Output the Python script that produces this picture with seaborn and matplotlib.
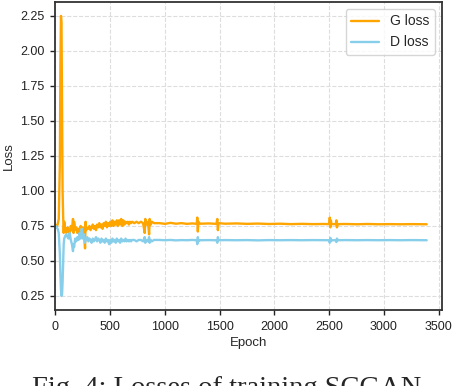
import matplotlib
matplotlib.use("Agg")
import matplotlib.pyplot as plt
import seaborn as sns
import pandas as pd

# Values (epoch, generator loss, discriminator loss)
epochs = [
    0, 10, 20, 30, 40, 45, 50, 55, 60, 65, 70, 75, 80, 90, 100, 110, 120, 130, 140, 150,
    160, 165, 170, 180, 190, 200, 210, 220, 230, 240, 250, 260, 270, 275, 280, 290,
    300, 310, 320, 330, 340, 350, 360, 370, 380, 390, 400, 410, 420, 430, 440, 450,
    460, 470, 480, 490, 500, 510, 520, 530, 540, 550, 560, 570, 580, 590, 600, 610,
    620, 630, 640, 650, 660, 670, 680, 690, 700, 720, 740, 760, 780, 800, 815, 820,
    830, 845, 855, 860, 870, 880, 900, 950, 1000, 1050, 1100, 1150, 1200, 1250, 1290,
    1295, 1300, 1305, 1320, 1400, 1470, 1478, 1483, 1490, 1550, 1650, 1750, 1850, 1950,
    2050, 2150, 2250, 2350, 2450, 2500, 2505, 2510, 2515, 2520, 2560, 2565, 2570, 2580,
    2650, 2750, 2850, 2950, 3050, 3150, 3250, 3390,
]
g_loss = [
    0.76, 0.74, 0.76, 0.80, 1.20, 1.90, 2.25, 2.20, 1.60, 1.00, 0.82, 0.70, 0.78, 0.72, 0.70, 0.74, 0.72, 0.69, 0.75, 0.72,
    0.80, 0.70, 0.78, 0.72, 0.74, 0.70, 0.73, 0.68, 0.75, 0.70, 0.74, 0.70, 0.59, 0.78, 0.72, 0.73,
    0.73, 0.75, 0.72, 0.74, 0.76, 0.73, 0.75, 0.72, 0.76, 0.74, 0.77, 0.74, 0.76, 0.73, 0.77, 0.75,
    0.78, 0.74, 0.77, 0.75, 0.78, 0.75, 0.79, 0.75, 0.78, 0.76, 0.79, 0.75, 0.79, 0.76, 0.80, 0.75,
    0.79, 0.76, 0.78, 0.77, 0.78, 0.76, 0.78, 0.77, 0.78, 0.77, 0.78, 0.77, 0.78, 0.77, 0.70, 0.80,
    0.76, 0.78, 0.69, 0.80, 0.76, 0.78, 0.77, 0.770, 0.765, 0.772, 0.766, 0.770, 0.765, 0.768, 0.765,
    0.81, 0.71, 0.78, 0.766, 0.768, 0.765, 0.80, 0.72, 0.770, 0.766, 0.768, 0.765, 0.767, 0.764,
    0.766, 0.763, 0.765, 0.763, 0.764, 0.763, 0.81, 0.74, 0.79, 0.763, 0.763, 0.79, 0.74, 0.763,
    0.764, 0.762, 0.764, 0.762, 0.763, 0.762, 0.763, 0.762,
]
d_loss = [
    0.75, 0.74, 0.73, 0.70, 0.55, 0.40, 0.30, 0.25, 0.26, 0.35, 0.50, 0.62, 0.66, 0.68, 0.69, 0.67, 0.66, 0.70, 0.65, 0.62,
    0.57, 0.62, 0.60, 0.66, 0.64, 0.67, 0.65, 0.70, 0.66, 0.73, 0.66, 0.69, 0.63, 0.66, 0.65, 0.67,
    0.64, 0.66, 0.65, 0.63, 0.66, 0.64, 0.65, 0.67, 0.64, 0.66, 0.65, 0.63, 0.66, 0.64, 0.65, 0.63,
    0.66, 0.64, 0.65, 0.62, 0.65, 0.63, 0.66, 0.64, 0.65, 0.63, 0.66, 0.64, 0.65, 0.63, 0.66, 0.64,
    0.65, 0.64, 0.66, 0.64, 0.65, 0.64, 0.65, 0.64, 0.65, 0.65, 0.64, 0.65, 0.65, 0.64, 0.67, 0.63,
    0.65, 0.64, 0.67, 0.63, 0.65, 0.64, 0.65, 0.650, 0.648, 0.650, 0.647, 0.649, 0.648, 0.650, 0.648,
    0.62, 0.67, 0.64, 0.648, 0.649, 0.648, 0.63, 0.67, 0.648, 0.649, 0.648, 0.649, 0.647, 0.649,
    0.648, 0.649, 0.648, 0.649, 0.648, 0.648, 0.63, 0.665, 0.64, 0.648, 0.648, 0.635, 0.66, 0.648,
    0.649, 0.648, 0.649, 0.648, 0.649, 0.648, 0.649, 0.648,
]

df = pd.DataFrame({"Epoch": epochs, "G loss": g_loss, "D loss": d_loss})

sns.set_style("ticks")
plt.rcParams["font.family"] = ["Liberation Sans", "DejaVu Sans"]

fig = plt.figure(figsize=(4.54, 3.86), dpi=100)
ax = fig.add_axes([0.1222, 0.197, 0.8514, 0.798])

sns.lineplot(data=df, x="Epoch", y="G loss", color="orange", linewidth=1.7, label="G loss", ax=ax)
sns.lineplot(data=df, x="Epoch", y="D loss", color="skyblue", linewidth=1.7, label="D loss", ax=ax)

ax.set_xlim(0, 3530)
ax.set_ylim(0.15, 2.35)
ax.set_xticks(range(0, 3501, 500))
ax.set_yticks([0.25, 0.5, 0.75, 1.0, 1.25, 1.5, 1.75, 2.0, 2.25])
ax.grid(True, linestyle="--", color="#dddddd", linewidth=0.8)
ax.set_axisbelow(True)

for side in ax.spines.values():
    side.set_color("#333333")
    side.set_linewidth(1.3)
ax.tick_params(colors="#222222", labelsize=9, length=3.5, width=1.0, pad=4.5)
ax.set_xlabel("Epoch", fontsize=9.5, labelpad=3)
ax.set_ylabel("Loss", fontsize=9.5)

ax.legend(loc="upper right", fontsize=10, frameon=True)

fig.text(0.5, -0.023, "Fig. 4: Losses of training SCGAN", ha="center", va="baseline",
         fontsize=20.5, family=["Liberation Serif", "DejaVu Serif"])

fig.savefig("out.png", dpi=100)
